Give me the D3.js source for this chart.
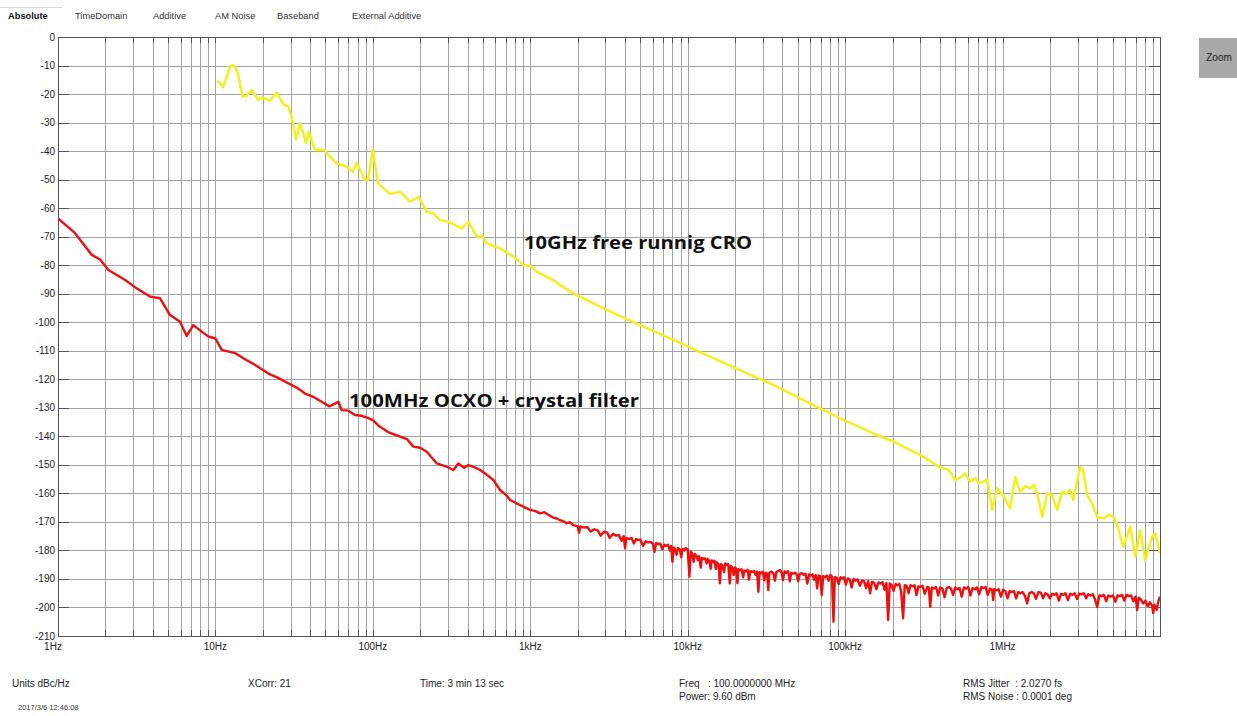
<!DOCTYPE html>
<html>
<head>
<meta charset="utf-8">
<script src="https://cdn.jsdelivr.net/npm/d3@7/dist/d3.min.js"></script>
<style>
  html, body { margin: 0; padding: 0; background: #ffffff; }
  svg { display: block; font-family: "Liberation Sans", Arial, sans-serif; }
</style>
</head>
<body>
<svg id="chart" width="1237" height="716"></svg>
<script>
// ---------------- DATA ----------------
const tabLabels = ["Absolute", "TimeDomain", "Additive", "AM Noise", "Baseband", "External Additive"];
const xTickValues = [1, 10, 100, 1e3, 1e4, 1e5, 1e6];
const xTickLabels = ["1Hz", "10Hz", "100Hz", "1kHz", "10kHz", "100kHz", "1MHz"];
const yTickValues = d3.range(0, -211, -10);
const seriesNames = ["10GHz free runnig CRO", "100MHz OCXO + crystal filter"];

// [frequency Hz, dBc/Hz]
const croTrace = [
  [10.3,-15.3],[11.2,-17.6],[12.4,-10.2],[13,-9.8],[13.8,-12.2],[14.9,-20.9],[15.8,-20.7],[17,-18.6],
  [18.7,-22.1],[19.7,-21.1],[22.2,-22.3],[24.5,-19.5],[27,-23.5],[29,-24.4],[30.5,-27.9],[32.5,-35.9],
  [34.5,-30.3],[36.2,-33.8],[37.6,-37.3],[39,-33.2],[43,-39.6],[49.7,-39.6],[52.1,-41.4],[59,-44.3],
  [68.3,-45.5],[74.5,-47.2],[79,-44.1],[89.2,-50.1],[93.6,-49.9],[99.8,-39.4],[108,-51.3],[128.6,-55],
  [149,-54.2],[172,-57.7],[195,-56],[220,-61.3],[242,-61.8],[267,-64.2],[302,-64.8],[367,-67.1],
  [404,-64.8],[457,-70],[492,-69.8],[530,-72.3],[643,-74.1],[781,-77],[904,-79.9],[998,-80.3],
  [1100,-82.3],[1154,-82.9],[1400,-85.2],[1545,-87],[1972,-90.5],[3060,-95.7],[4990,-101],[8110,-106.2],
  [13200,-111.5],[21500,-116.8],[35000,-122],[57100,-127.9],[93000,-133.7],[151000,-139],[201800,-141.8],
  [246500,-144.2],[299400,-146.5],[401000,-150.9],[444600,-151.6],[464500,-152.4],[500000,-155.3],
  [540000,-154.5],[578400,-153],[622700,-155.9],[669900,-154.7],[710000,-156.5],[753000,-155.9],[798300,-155.3],
  [859000,-165.8],[924700,-158.2],[1009000,-160.6],[1117000,-165.3],[1203000,-154.2],[1294000,-159.4],
  [1400000,-157.5],[1497000,-158.2],[1580000,-157],[1659000,-160],[1786000,-168.2],[1921000,-160],[2060000,-160.5],
  [2223000,-165.8],[2392000,-159.4],[2540000,-160.2],[2688000,-158.8],[2812000,-162.3],[3112000,-150.7],[3251000,-151.8],
  [3446000,-160.6],[3700000,-163.5],[3990000,-168.2],[4356000,-168.8],[4700000,-167.5],[5043000,-168.2],[5346000,-171.1],
  [5838000,-178.7],[6467000,-171.7],[6955000,-182.2],[7480000,-172.9],[8050000,-183.4],[8918000,-175.2],
  [9330000,-174],[10000000,-181]
];

const ocxoTrace = [
  [1,-63.6],[1.28,-68.7],[1.64,-76.4],[1.85,-78],[2.09,-81.7],[2.67,-85.2],[3.08,-87.7],[3.84,-91],
  [4.45,-91.6],[5.15,-97.5],[5.96,-99.8],[6.57,-104.8],[7.24,-101],[8.18,-103.3],[9.02,-105],[10,-105.7],
  [10.96,-109.7],[13.3,-110.8],[15.8,-113.3],[17.9,-115],[21.7,-118],[25,-119.5],[29,-121.4],[33,-123],
  [37.1,-125],[42,-126.2],[47.3,-127.9],[53,-129.5],[60.4,-127.9],[63.4,-130.8],[70,-131],[77,-132.5],
  [85,-132.8],[93.6,-133.6],[100,-134.3],[110,-136.5],[125,-138.5],[149,-140.1],[165,-141],[181,-143.6],
  [200,-144],[220,-145.4],[255,-149.5],[290,-150.5],[325,-151.8],[349,-149.5],[380,-151],[404,-150.1],
  [440,-150.8],[480,-151.8],[530,-153.5],[583,-155.3],[643,-158.8],[700,-160.5],[745,-162.3],[820,-163.5],
  [904,-164.7],[1000,-165.8],[1080,-166.2],[1154,-167],[1230,-166.6],[1300,-167.5],[1400,-168.5],[1473,-168.8],
  [1545,-169.4],[1620,-169.8],[1700,-170.5],[1780,-170.1],[1880,-171.1],[1950,-171.4],
  [2000,-171.5],[2040,-173.8],[2080,-171.6],[2200,-172],[2300,-171.8],[2420,-173.4],[2550,-172.6],[2680,-173],
  [2800,-174.8],[2950,-173.4],[3080,-173.8],[3200,-175.6],[3350,-174.2],[3500,-174.8],[3650,-174.6],[3800,-176.6],
  [3920,-175],[4000,-179.3],[4080,-175.6],[4250,-176],[4400,-175.6],[4550,-177.6],[4700,-176],[4850,-176.4],
  [5000,-176.2],[5200,-178.4],[5400,-176.8],[5600,-177.2],[5800,-177],[6000,-177.6],[6150,-180.5],[6300,-177.4],
  [6500,-177.8],[6700,-177.6],[6900,-179.6],[7100,-178],[7300,-178.4],[7500,-178],[7700,-180],[7850,-178.4],
  [8000,-184],[8150,-179],[8300,-179.6],[8500,-181.5],[8650,-179.2],[8900,-179.6],[9100,-182.4],[9250,-179.5],
  [9500,-180],[9700,-179.2],[10000,-179.6],[10250,-189.2],[10450,-180.4],[10650,-181],[10900,-184],[11100,-181.2],
  [11300,-181.8],[11600,-183.4],[11800,-182],[12100,-186],[12300,-182.6],[12600,-183],[12900,-182.8],[13200,-184.5],
  [13400,-183],[13700,-183.6],[14000,-186.4],[14200,-183.5],[14500,-184],[14800,-183.6],[15100,-186.5],[15300,-184.2],
  [15700,-184.8],[16000,-191.5],[16300,-184.8],[16600,-185.2],[17000,-187.6],[17300,-184.6],[17700,-185],[18100,-184.8],
  [18500,-191.6],[18800,-185.4],[19200,-186],[19600,-188.6],[19900,-186],[20300,-186.4],[20700,-191.5],[21000,-186.6],
  [21500,-187],[22000,-186.6],[22500,-189.4],[22900,-187],[23500,-187.4],[24000,-186.8],[24500,-190.2],[25000,-187.2],
  [25700,-187.6],[26400,-187.2],[27000,-188.6],[27600,-187.4],[28100,-194.5],[28600,-187.6],[29300,-188],[30000,-187.5],
  [30700,-190.5],[31300,-187.8],[32000,-188.2],[32500,-193.9],[33000,-187.8],[34000,-187.4],[35000,-188],[35800,-190.6],
  [36600,-187.6],[37600,-187.2],[38600,-186.9],[39500,-187.8],[40300,-190.4],[41200,-187.4],[42300,-187.8],[43500,-187.3],
  [44500,-190.8],[45500,-187.8],[46800,-188.2],[48000,-187.8],[49200,-188.4],[50300,-190.8],[51500,-188.2],[53000,-188],
  [54500,-188.6],[56000,-188.2],[57500,-191.6],[59000,-188.4],[60500,-188.8],[62000,-188.4],[63500,-190.2],[65000,-188.6],
  [66400,-193.3],[67800,-188.8],[69500,-189],[71000,-195.7],[72500,-189],[74500,-189.4],[76500,-188.8],[78500,-190.6],
  [80500,-188.6],[82500,-189.2],[84300,-205],[86000,-189.4],[88500,-189.6],[91000,-191.8],[93500,-189.4],[96000,-189.8],
  [98500,-189.4],[101000,-192],[104000,-189.8],[107000,-190.2],[110000,-193],[113000,-190],[116000,-190.6],[120000,-190.2],
  [124000,-192.4],[128000,-190.6],[132000,-190.8],[136000,-193.2],[140000,-190.8],[144200,-195],[148000,-191],[153000,-191.4],
  [158000,-193.6],[163000,-191.2],[168000,-191.6],[173000,-191.2],[178000,-193.8],[183000,-191.4],[187600,-204.4],[192000,-191.6],
  [197000,-192],[203000,-194.2],[209000,-191.8],[215000,-192.2],[221000,-191.8],[227000,-194.6],[233500,-203.8],[239000,-192.2],
  [246000,-192.4],[253000,-195],[260000,-192.2],[268000,-192.6],[276000,-192.2],[284000,-195.6],[292000,-192.6],[300000,-192.8],
  [310000,-192.4],[320000,-195.2],[333000,-192.8],[340000,-193],[347000,-199.8],[355000,-193],[366000,-193.4],[378000,-192.8],
  [390000,-195.8],[402000,-193],[415000,-193.4],[428000,-196.4],[442000,-193.2],[456000,-192.8],[470000,-193.4],[485000,-195.6],
  [500000,-193],[516000,-193.6],[533000,-193.2],[550000,-196.2],[568000,-193],[586000,-193.4],[605000,-192.8],[625000,-195.8],
  [645000,-193.2],[666000,-193.6],[688000,-193],[710000,-195.4],[733000,-192.8],[756000,-193.2],[780000,-192.8],[805000,-195.6],
  [831000,-193.4],[858000,-193.8],[871700,-197.4],[886000,-193.6],[915000,-194],[945000,-193.6],[975000,-196.2],[1009000,-193.8],
  [1040000,-194.2],[1075000,-196.8],[1110000,-194.2],[1145000,-194.6],[1180000,-194.2],[1220000,-196.8],[1260000,-194.6],
  [1300000,-195],[1340000,-194.6],[1390000,-196],[1432000,-198.6],[1480000,-195],[1530000,-194.6],[1580000,-195],
  [1630000,-197],[1690000,-194.6],[1750000,-194.8],[1810000,-196.8],[1870000,-195],[1930000,-195.4],[2000000,-196.8],
  [2060000,-195.2],[2130000,-195.6],[2200000,-195],[2280000,-197.6],[2350000,-195.2],[2430000,-195.6],[2510000,-195],
  [2600000,-197.4],[2690000,-195.2],[2780000,-195.6],[2870000,-195],[2970000,-197],[3070000,-195.2],[3170000,-195.4],
  [3280000,-195],[3390000,-196.8],[3500000,-195.4],[3620000,-195.8],[3740000,-195.4],[3870000,-197.2],[3990000,-199.8],
  [4120000,-195.8],[4260000,-196],[4400000,-195.6],[4550000,-197.8],[4700000,-195.8],[4860000,-196.2],[5030000,-195.8],
  [5200000,-198],[5370000,-195.8],[5550000,-196],[5740000,-195.6],[5930000,-197.6],[6130000,-195.6],[6340000,-196],
  [6550000,-195.8],[6770000,-197.8],[7000000,-196.2],[7161000,-200.9],[7320000,-196.6],[7560000,-197.2],[7816000,-198.6],
  [8080000,-197.6],[8350000,-199.6],[8630000,-198.2],[8920000,-199.4],[9057000,-202],[9220000,-199],[9530000,-200.8],
  [9800000,-197.5],[10000000,-196.2]
];

const footerLeft = ["Units dBc/Hz", "XCorr: 21", "Time: 3 min 13 sec"];
const footerFreq = ["Freq   : 100.0000000 MHz", "Power: 9.60 dBm"];
const footerRms = ["RMS Jitter  : 2.0270 fs", "RMS Noise : 0.0001 deg"];
const timestamp = "2017/3/6 12:46:08";

// ---------------- DRAW ----------------
const svg = d3.select("#chart");
const plot = { left: 58, right: 1160, top: 37, bottom: 636 };

const x = d3.scaleLog().domain([1, 1e7]).range([plot.left, plot.right]);
const y = d3.scaleLinear().domain([0, -210]).range([plot.top, plot.bottom]);

// tabs
svg.append("line").attr("x1", 0).attr("x2", 62).attr("y1", 7.5).attr("y2", 7.5)
  .attr("stroke", "#d8d8d8").attr("stroke-width", 1);
const tabX = [8, 75, 153, 215, 277, 352];
svg.selectAll("text.tab").data(tabLabels).enter().append("text")
  .attr("class", "tab")
  .attr("x", (d, i) => tabX[i]).attr("y", 19)
  .attr("font-size", 9.3)
  .attr("font-weight", (d, i) => i === 0 ? "bold" : "normal")
  .attr("fill", (d, i) => i === 0 ? "#111" : "#333")
  .text(d => d);

// zoom button
svg.append("rect").attr("x", 1199).attr("y", 38).attr("width", 40).attr("height", 40)
  .attr("fill", "#a9a9a9");
svg.append("text").attr("x", 1219).attr("y", 61).attr("text-anchor", "middle")
  .attr("font-size", 10).attr("fill", "#222").text("Zoom");

// grid
const grid = svg.append("g");
const minorVals = [];
for (let d = 0; d < 7; d++) for (let m = 1; m <= 9; m++) minorVals.push(m * Math.pow(10, d));
minorVals.push(1e7);
grid.selectAll("line.v").data(minorVals).enter().append("line")
  .attr("x1", d => Math.round(x(d)) + 0.5).attr("x2", d => Math.round(x(d)) + 0.5)
  .attr("y1", plot.top).attr("y2", plot.bottom)
  .attr("stroke", "#a3a3a3").attr("stroke-width", 1);
grid.selectAll("line.h").data(yTickValues).enter().append("line")
  .attr("x1", plot.left).attr("x2", plot.right)
  .attr("y1", d => Math.round(y(d)) + 0.5).attr("y2", d => Math.round(y(d)) + 0.5)
  .attr("stroke", "#a3a3a3").attr("stroke-width", 1);

// darker tick marks
const ticks = svg.append("g").attr("stroke", "#555").attr("stroke-width", 1);
minorVals.forEach(v => {
  const xx = Math.round(x(v)) + 0.5;
  ticks.append("line").attr("x1", xx).attr("x2", xx).attr("y1", plot.top).attr("y2", plot.top + 6);
  ticks.append("line").attr("x1", xx).attr("x2", xx).attr("y1", plot.bottom - 6).attr("y2", plot.bottom);
});
yTickValues.forEach(v => {
  const yy = Math.round(y(v)) + 0.5;
  ticks.append("line").attr("x1", plot.left).attr("x2", plot.left + 11).attr("y1", yy).attr("y2", yy);
  ticks.append("line").attr("x1", plot.right - 11).attr("x2", plot.right).attr("y1", yy).attr("y2", yy);
});

// frame
svg.append("rect").attr("x", plot.left + 0.5).attr("y", plot.top + 0.5)
  .attr("width", plot.right - plot.left).attr("height", plot.bottom - plot.top)
  .attr("fill", "none").attr("stroke", "#555").attr("stroke-width", 1);

// axis labels
svg.selectAll("text.ytick").data(yTickValues).enter().append("text")
  .attr("x", 55).attr("y", d => y(d) + 3.5)
  .attr("text-anchor", "end").attr("font-size", 10).attr("fill", "#222")
  .text(d => d);
svg.selectAll("text.xtick").data(xTickValues).enter().append("text")
  .attr("x", (d, i) => x(d) - (i === 0 ? 5 : 0)).attr("y", 650)
  .attr("text-anchor", "middle").attr("font-size", 10).attr("fill", "#222")
  .text((d, i) => xTickLabels[i]);

// traces
const line = d3.line().x(d => x(d[0])).y(d => y(d[1]));
svg.append("clipPath").attr("id", "clip").append("rect")
  .attr("x", plot.left).attr("y", plot.top).attr("width", plot.right - plot.left).attr("height", plot.bottom - plot.top);
svg.append("path").datum(ocxoTrace).attr("d", line)
  .attr("fill", "none").attr("stroke", "#ec1010").attr("stroke-width", 2.4)
  .attr("stroke-linejoin", "round").attr("clip-path", "url(#clip)");
svg.append("path").datum(croTrace).attr("d", line)
  .attr("fill", "none").attr("stroke", "#f4f020").attr("stroke-width", 2.5)
  .attr("stroke-linejoin", "round").attr("clip-path", "url(#clip)");

// annotations
svg.append("text").attr("x", 524).attr("y", 249)
  .style("font-family", "'Open Sans', 'Noto Sans', sans-serif").attr("font-weight", "bold").attr("font-size", 17)
  .attr("textLength", 228).attr("lengthAdjust", "spacingAndGlyphs")
  .attr("fill", "#111").text(seriesNames[0]);
svg.append("text").attr("x", 349).attr("y", 407)
  .style("font-family", "'Open Sans', 'Noto Sans', sans-serif").attr("font-weight", "bold").attr("font-size", 17)
  .attr("textLength", 290).attr("lengthAdjust", "spacingAndGlyphs")
  .attr("fill", "#111").text(seriesNames[1]);

// footer
const footerLeftX = [12, 248, 420];
svg.selectAll("text.fl").data(footerLeft).enter().append("text")
  .attr("x", (d, i) => footerLeftX[i]).attr("y", 687)
  .attr("font-size", 10).attr("fill", "#222").text(d => d);
svg.selectAll("text.ff").data(footerFreq).enter().append("text")
  .attr("x", 679).attr("y", (d, i) => 687 + i * 13)
  .attr("font-size", 10).attr("fill", "#222")
  .style("white-space", "pre").text(d => d);
svg.selectAll("text.fr").data(footerRms).enter().append("text")
  .attr("x", 963).attr("y", (d, i) => 687 + i * 13)
  .attr("font-size", 10).attr("fill", "#222")
  .style("white-space", "pre").text(d => d);
svg.append("text").attr("x", 18).attr("y", 710).attr("font-size", 7.5).attr("fill", "#333").text(timestamp);
</script>
</body>
</html>
